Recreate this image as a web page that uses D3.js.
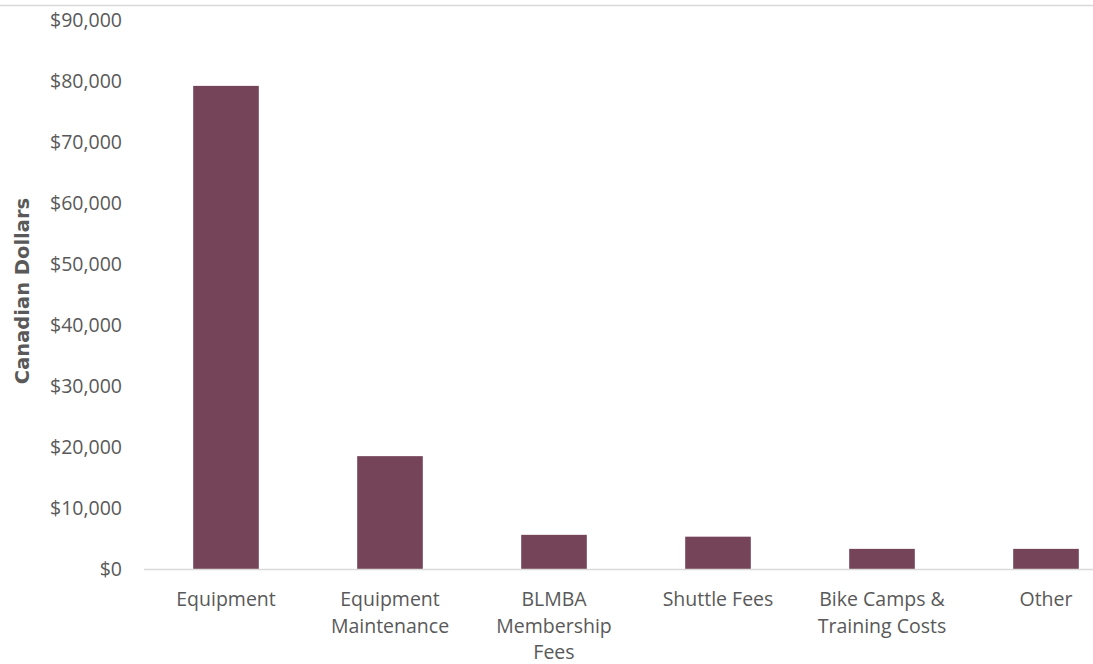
<!DOCTYPE html>
<html>
<head>
<meta charset="utf-8">
<script src="https://cdn.jsdelivr.net/npm/d3@7"></script>
<style>
  html, body { margin: 0; padding: 0; background: #fff; }
  svg { display: block; font-family: "Open Sans", Lato, sans-serif; }
</style>
</head>
<body>
<svg id="chart" width="1093" height="664"></svg>
<script>
// Spending by category
const categories = [
  ["Equipment"],
  ["Equipment", "Maintenance"],
  ["BLMBA", "Membership", "Fees"],
  ["Shuttle Fees"],
  ["Bike Camps &", "Training Costs"],
  ["Other"]
];
const values = [79200, 18500, 5600, 5300, 3300, 3300];
const yTicks = [0, 10000, 20000, 30000, 40000, 50000, 60000, 70000, 80000, 90000];
const yTitle = "Canadian Dollars";

const svg = d3.select("#chart");
const textColor = "#595959";
const barColor = "#764459";

const x = d3.scaleBand()
  .domain(d3.range(categories.length))
  .range([144, 1128])
  .paddingInner(0.6)
  .paddingOuter(0.3);

const y = d3.scaleLinear()
  .domain([0, 90000])
  .range([569, 20]);

// Top frame line
svg.append("line")
  .attr("x1", 0).attr("x2", 1093)
  .attr("y1", 5.5).attr("y2", 5.5)
  .attr("stroke", "#d9d9d9").attr("stroke-width", 1.5);

// Y axis labels
const fmt = d3.format("$,.0f");
const yAxis = svg.append("g")
  .attr("transform", "translate(122,0)")
  .call(d3.axisLeft(y).tickValues(yTicks).tickFormat(fmt).tickSize(0).tickPadding(0));
yAxis.select(".domain").remove();
yAxis.selectAll("text")
  .attr("fill", textColor)
  .style("font-size", "19.5px")
  .style("font-family", "'Open Sans', sans-serif");

// Bars
svg.append("g")
  .selectAll("rect")
  .data(values)
  .join("rect")
  .attr("x", (d, i) => x(i))
  .attr("width", x.bandwidth())
  .attr("y", d => y(d))
  .attr("height", d => y(0) - y(d))
  .attr("fill", barColor);

// Baseline
svg.append("line")
  .attr("x1", 144).attr("x2", 1093)
  .attr("y1", y(0) + 0.5).attr("y2", y(0) + 0.5)
  .attr("stroke", "#d9d9d9").attr("stroke-width", 1.5);

// Category labels
const catG = svg.append("g");
categories.forEach((lines, i) => {
  const cx = x(i) + x.bandwidth() / 2;
  const t = catG.append("text")
    .attr("x", cx)
    .attr("y", 606)
    .attr("text-anchor", "middle")
    .attr("fill", textColor)
    .style("font-size", "19.5px");
  lines.forEach((ln, j) => {
    t.append("tspan")
      .attr("x", cx)
      .attr("dy", j === 0 ? 0 : 26.5)
      .text(ln);
  });
});

// Y axis title
svg.append("text")
  .attr("transform", "translate(29,291) rotate(-90)")
  .attr("text-anchor", "middle")
  .attr("fill", textColor)
  .style("font-family", "'DejaVu Sans', sans-serif")
  .style("font-size", "19.5px")
  .style("font-weight", "bold")
  .text(yTitle);
</script>
</body>
</html>
